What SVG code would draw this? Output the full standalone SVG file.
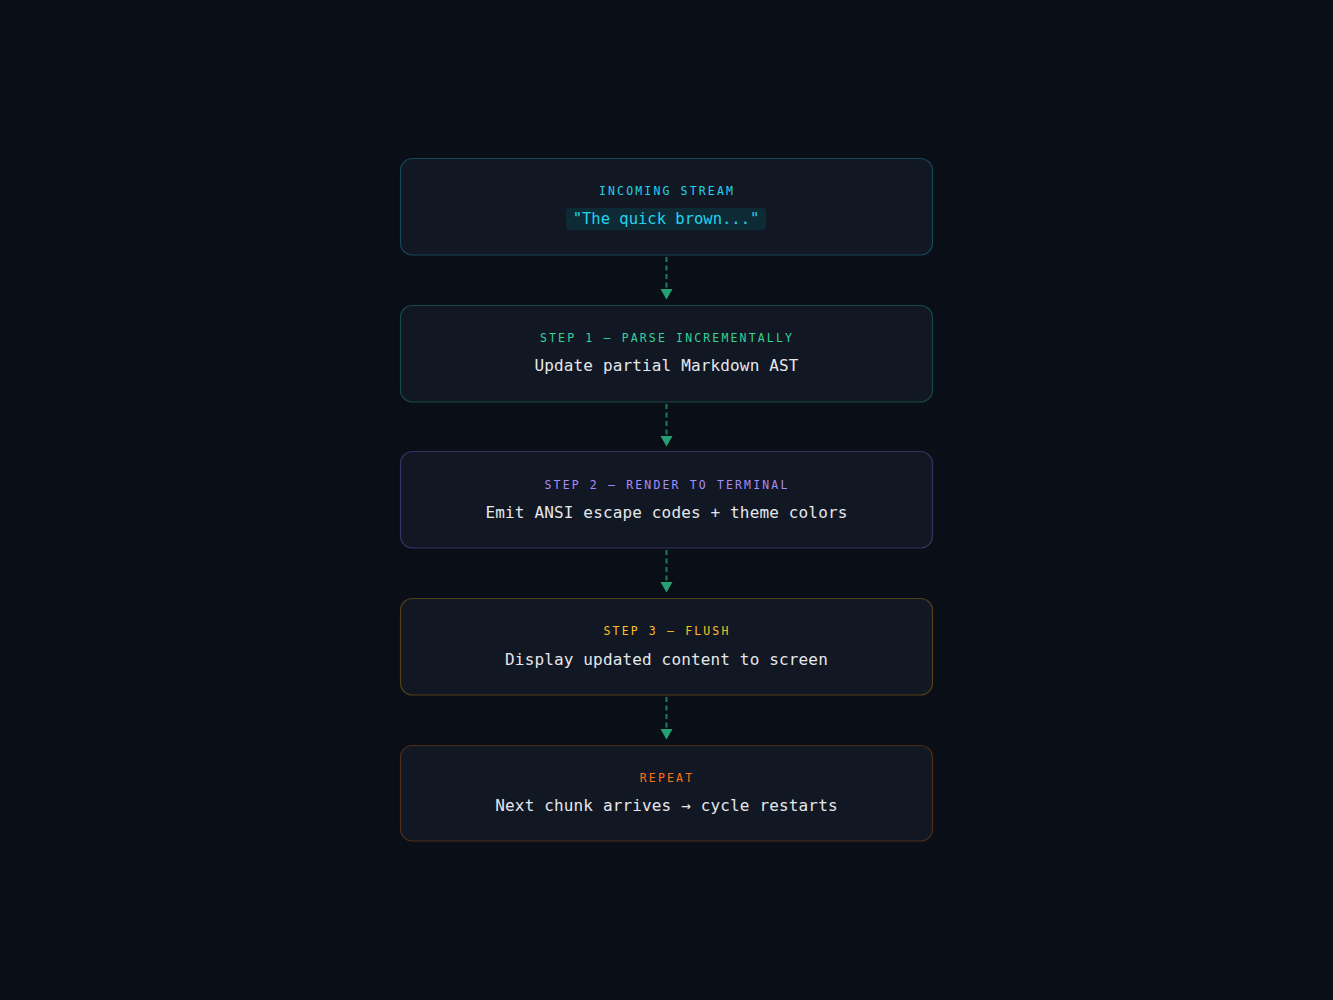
<svg xmlns="http://www.w3.org/2000/svg" width="1333" height="1000" viewBox="0 0 1333 1000">
<defs>
<style>
.box{fill:#111723;stroke-width:1.2}
.lab{font-family:"DejaVu Sans Mono","Liberation Mono",monospace;font-size:11.5px;letter-spacing:2.15px;text-anchor:middle}
.main{font-family:"DejaVu Sans Mono","Liberation Mono",monospace;font-size:16px;letter-spacing:0.15px;fill:#e5e7eb;text-anchor:middle}
.code{font-family:"DejaVu Sans Mono","Liberation Mono",monospace;font-size:15.5px;fill:#22d3ee;text-anchor:middle}
.conn{stroke:#1f7a5c;stroke-width:2;stroke-dasharray:5 3.5;fill:none}
.head{fill:#25a074}
</style>
</defs>
<rect width="1333" height="1000" fill="#0a0e17"/>
<g id="connectors">
<line class="conn" x1="666.5" y1="257" x2="666.5" y2="289"/>
<polygon class="head" points="660.5,289 672.5,289 666.5,299.5"/>
<line class="conn" x1="666.5" y1="404" x2="666.5" y2="436"/>
<polygon class="head" points="660.5,436 672.5,436 666.5,446.5"/>
<line class="conn" x1="666.5" y1="550" x2="666.5" y2="582"/>
<polygon class="head" points="660.5,582 672.5,582 666.5,592.5"/>
<line class="conn" x1="666.5" y1="697" x2="666.5" y2="729"/>
<polygon class="head" points="660.5,729 672.5,729 666.5,739.5"/>
</g>
<g id="incoming">
<rect class="box" x="400.5" y="158.5" width="532" height="96.5" rx="12" stroke="#14485a"/>
<text class="lab" x="667" y="195" fill="#22d3ee">INCOMING STREAM</text>
<rect x="566" y="208" width="200" height="22" rx="3" fill="#0d2a35"/>
<text class="code" x="666" y="224">"The quick brown..."</text>
</g>
<g id="step1">
<rect class="box" x="400.5" y="305.5" width="532" height="96.5" rx="12" stroke="#164a46"/>
<text class="lab" x="667" y="342" fill="#34d399">STEP 1 — PARSE INCREMENTALLY</text>
<text class="main" x="666.5" y="371">Update partial Markdown AST</text>
</g>
<g id="step2">
<rect class="box" x="400.5" y="451.5" width="532" height="96.5" rx="12" stroke="#363264"/>
<text class="lab" x="667" y="489" fill="#a78bfa">STEP 2 — RENDER TO TERMINAL</text>
<text class="main" x="666.5" y="518">Emit ANSI escape codes + theme colors</text>
</g>
<g id="step3">
<rect class="box" x="400.5" y="598.5" width="532" height="96.5" rx="12" stroke="#524014"/>
<text class="lab" x="667" y="635" fill="#fbbf24">STEP 3 — FLUSH</text>
<text class="main" x="666.5" y="665">Display updated content to screen</text>
</g>
<g id="repeat">
<rect class="box" x="400.5" y="745.5" width="532" height="95.5" rx="12" stroke="#4e2c18"/>
<text class="lab" x="667" y="782" fill="#f97316">REPEAT</text>
<text class="main" x="666.5" y="811">Next chunk arrives → cycle restarts</text>
</g>
</svg>
